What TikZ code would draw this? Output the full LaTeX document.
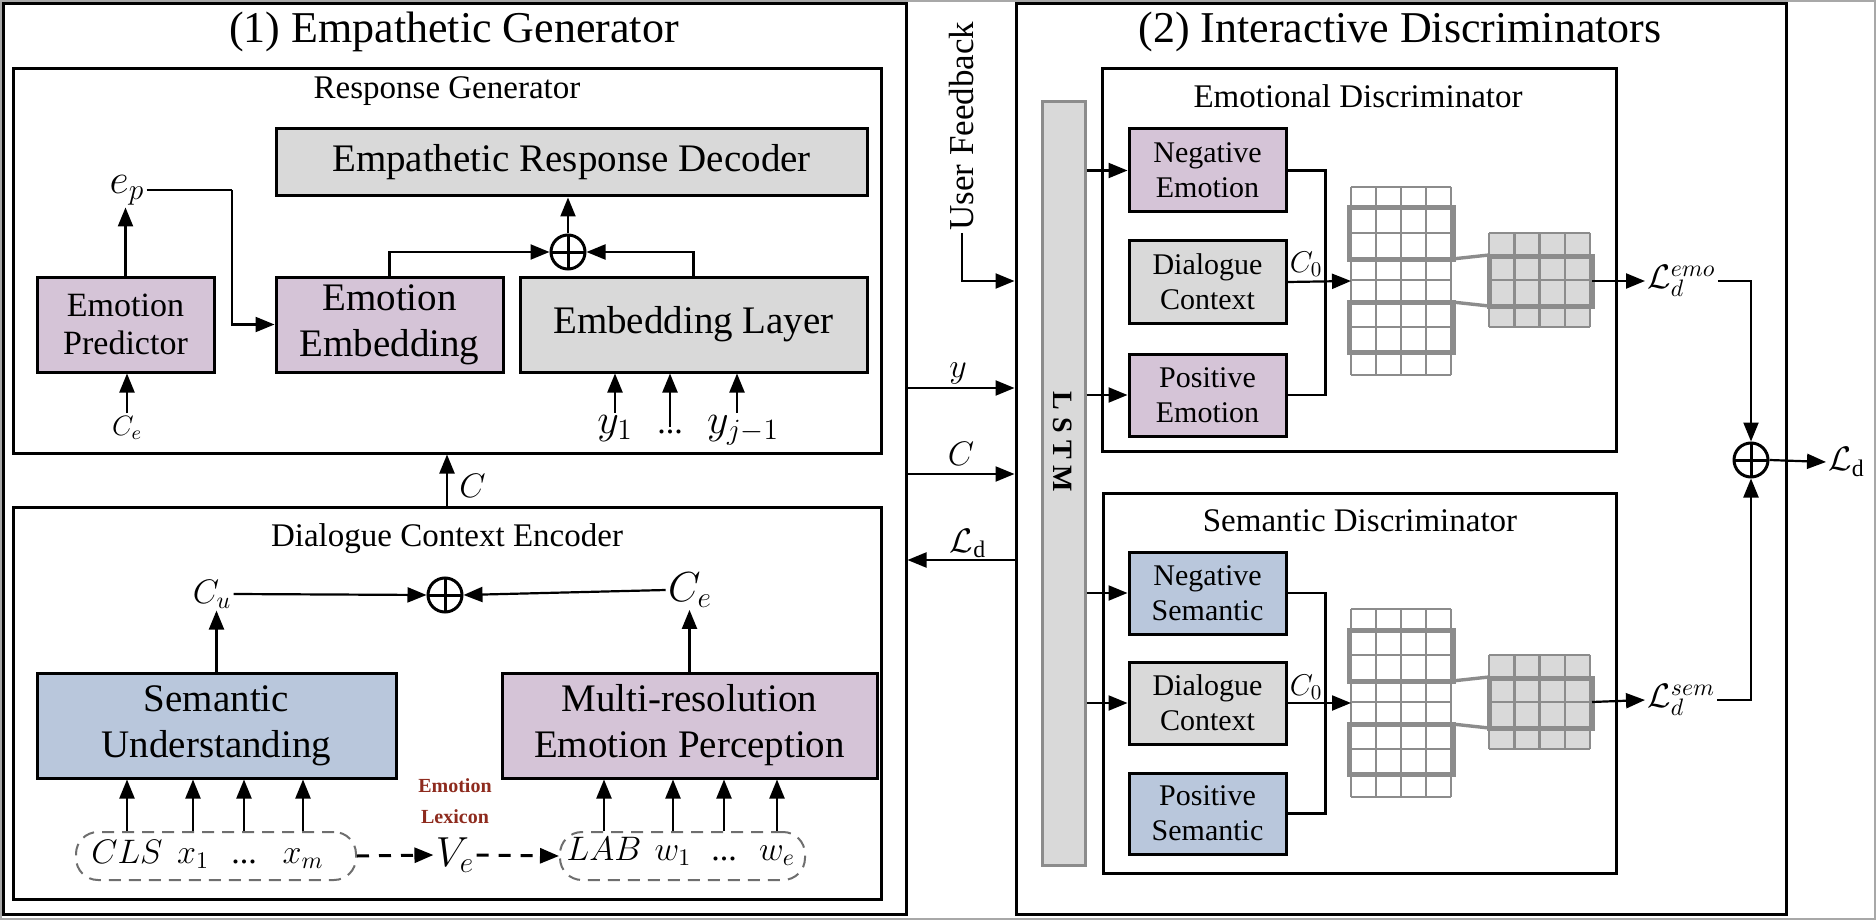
\RequirePackage{fix-cm}
\documentclass[tikz,border=0pt]{standalone}
\usepackage{fontspec}
\setmainfont{Liberation Serif}
\usetikzlibrary{arrows.meta,calc}
\definecolor{lilac}{HTML}{D5C4D7}
\definecolor{bluegray}{HTML}{B9C7DC}
\definecolor{lgray}{HTML}{D9D9D9}
\definecolor{ggray}{HTML}{8C8C8C}
\definecolor{dgray}{HTML}{6E6E6E}
\definecolor{lexred}{HTML}{8E2B1E}
\definecolor{imgframe}{HTML}{A8A8A8}
\newcommand{\mytitle}{\fontsize{22}{26}\selectfont}
\newcommand{\mysec}{\fontsize{16.5}{19}\selectfont}
\newcommand{\mybig}{\fontsize{19.5}{23}\selectfont}
\newcommand{\mypred}{\fontsize{17}{19}\selectfont}
\newcommand{\mydis}{\fontsize{15}{17.5}\selectfont}
\newcommand{\mylex}{\fontsize{10}{15.5}\selectfont\bfseries}
\newcommand{\mymathA}{\fontsize{21}{24}\selectfont}
\newcommand{\mymathB}{\fontsize{17}{20}\selectfont}
\newcommand{\mymathC}{\fontsize{15}{18}\selectfont}
\newcommand{\mymathD}{\fontsize{14}{17}\selectfont}
\begin{document}
\begin{tikzpicture}[x=0.5pt,y=-0.5pt,
  bx/.style n args={4}{at={({(#1+#3)/2},{(#2+#4)/2})},
     minimum width={(#3-#1)*0.5pt}, minimum height={(#4-#2)*0.5pt}},
  frame/.style={draw, line width=1.5pt, inner sep=0pt, outer sep=0.75pt},
  blk/.style={draw, line width=1.5pt, inner sep=0pt, outer sep=0.75pt, align=center},
  arr/.style={-{Triangle[length=9.5pt,width=7.5pt]}, line width=1.1pt},
  ln/.style={line width=1.1pt},
  lbl/.style={inner sep=1pt},
  dbox/.style={draw=dgray, line width=1pt, dash pattern=on 6pt off 4pt, rounded corners=11pt, inner sep=0pt},
  darr/.style={-{Triangle[length=9.5pt,width=7.5pt]}, line width=1.5pt, dash pattern=on 6pt off 5pt},
  oplus/.style={circle, draw, line width=1.5pt, minimum size=17pt, inner sep=0pt,
    path picture={\draw[line width=1.5pt] (path picture bounding box.north) -- (path picture bounding box.south)
      (path picture bounding box.west) -- (path picture bounding box.east);}},
  gl/.style={draw=ggray, line width=1.25pt},
  gthick/.style={draw=ggray, line width=2.5pt},
  glink/.style={draw=ggray, line width=1.7pt},
  bigg/.pic={
    \foreach \i in {0,...,4} \draw[gl] (25*\i,0) -- (25*\i,188);
    \foreach \j in {0,21,46,72,93,115,140,165,188} \draw[gl] (0,\j) -- (100,\j);
    \draw[gthick] (-2,21) rectangle (102,72);
    \draw[gthick] (-2,115) rectangle (102,165);
  },
  smallg/.pic={
    \fill[lgray] (0,0) rectangle (101,94);
    \foreach \i in {0,...,4} \draw[gl] (25.25*\i,0) -- (25.25*\i,94);
    \foreach \j in {0,23,47,73,94} \draw[gl] (0,\j) -- (101,\j);
    \draw[gthick] (0,23) rectangle (103,73);
  }
]
\useasboundingbox (0,0) rectangle (1876,920);
\draw[imgframe, line width=1pt] (1,1) rectangle (1875,919);

% ---------- frames
\node[frame, bx={3}{4}{906}{914}] (lbox) {};
\node[frame, bx={1016}{4}{1786}{914}] (rbox) {};
\node[font=\mytitle, anchor=base, inner sep=0pt] (t1) at (454,43) {(1) Empathetic Generator};
\node[font=\mytitle, anchor=base, inner sep=0pt] (t2) at (1400,43) {(2) Interactive Discriminators};

% ---------- response generator
\node[frame, bx={13}{69}{881}{453}] (rg) {};
\node[font=\mysec, anchor=base, inner sep=0pt] (rgl) at (447,99) {Response Generator};
\node[blk, fill=lgray, font=\mybig, bx={276}{129}{867}{196}] (dec) {Empathetic Response Decoder};
\node[blk, fill=lilac, font=\mypred, bx={37}{277}{214}{372}] (pred) {Emotion\\Predictor};
\node[blk, fill=lilac, font=\mybig, bx={276}{277}{503}{372}] (eemb) {Emotion\\Embedding};
\node[blk, fill=lgray, font=\mybig, bx={520}{277}{867}{372}] (elay) {Embedding Layer};
\node[oplus] (op1) at (568,252) {};
\node[lbl, font=\mymathA] (ep) at (127,190) {$e_p$};
\node[lbl, font=\mymathD, anchor=base] (ce1) at (127,435) {$C_e$};
\coordinate (epk) at (232,190);
\draw[ln] (ep.east) -- (epk);
\draw[arr] (epk) |- (eemb.west);
\draw[arr] (pred.north) -- (pred.north |- ep.south);
\draw[arr] (ce1.north) -- (ce1.north |- pred.south);
\draw[arr] (eemb.north) |- (op1.west);
\draw[arr] (elay.north) |- (op1.east);
\draw[arr] (op1.north) -- (op1.north |- dec.south);
\node[lbl, font=\mymathA, anchor=base] (y1) at (615,433) {$y_1$};
\node[lbl, font=\mymathB, anchor=base] (yd) at (670,433) {...};
\node[lbl, font=\mymathA, anchor=base] (yj) at (743,433) {$y_{j-1}$};
\draw[arr] (y1.north) -- (y1.north |- elay.south);
\draw[arr] (yd.north) -- (yd.north |- elay.south);
\draw[arr] ([xshift=-3pt]yj.north) -- ([xshift=-3pt]yj.north |- elay.south);

% ---------- dialogue context encoder
\node[frame, bx={13}{507}{881}{899}] (dce) {};
\node[font=\mysec, anchor=base, inner sep=0pt] (dcel) at (447,546) {Dialogue Context Encoder};
\draw[arr] (dce.north) -- (rg.south);
\node[lbl, font=\mymathB, anchor=base west] (clab) at (457,497) {$C$};
\node[oplus] (op2) at (445,595) {};
\node[lbl, font=\mymathB] (cu) at (212,594) {$C_u$};
\node[lbl, font=\mymathA] (ce2) at (690,590) {$C_e$};
\draw[arr] (cu.east) -- (op2.west);
\draw[arr] (ce2.west) -- (op2.east);
\node[blk, fill=bluegray, font=\mybig, bx={37}{673}{396}{778}] (semu) {Semantic\\Understanding};
\node[blk, fill=lilac, font=\mybig, bx={502}{673}{877}{778}] (mre) {Multi-resolution\\Emotion Perception};
\draw[arr] (semu.north) -- (semu.north |- cu.south);
\draw[arr] (mre.north) -- (mre.north |- ce2.south);

\node[dbox, bx={76}{832}{356}{880}] (in1) {};
\node[lbl, font=\mymathB, anchor=base] (cls) at (127,863) {$CLS$};
\node[lbl, font=\mymathB, anchor=base] (x1) at (193,863) {$x_1$};
\node[lbl, font=\mymathB, anchor=base] (xd) at (244,863) {...};
\node[lbl, font=\mymathB, anchor=base] (xm) at (303,863) {$x_m$};
\foreach \n in {cls,x1,xd,xm} \draw[arr] (\n |- in1.north) -- (\n |- semu.south);

\node[lbl, font=\mymathA] (ve) at (455,855) {$V_e$};
\node[font=\mylex, text=lexred, align=center, inner sep=0pt] (lex) at (455,801) {Emotion\\Lexicon};
\node[dbox, bx={560}{832}{805}{880}] (in2) {};
\node[lbl, font=\mymathB, anchor=base] (lab) at (604,860) {$LAB$};
\node[lbl, font=\mymathB, anchor=base] (w1) at (673,860) {$w_1$};
\node[lbl, font=\mymathB, anchor=base] (wd) at (724,860) {...};
\node[lbl, font=\mymathB, anchor=base] (we) at (777,860) {$w_e$};
\foreach \n in {lab,w1,wd,we} \draw[arr] (\n |- in2.north) -- (\n |- mre.south);
\draw[darr] (in1.east) -- (ve.west);
\draw[darr] (ve.east) -- (in2.west);

% ---------- middle
\node[font=\fontsize{17.5}{20}\selectfont, rotate=90, inner sep=1pt] (ufb) at (962,126) {User Feedback};
\coordinate (yuf) at (990,281);
\coordinate (yy) at (990,388);
\coordinate (yc) at (990,474);
\coordinate (yl) at (990,560);
\draw[arr] (ufb.west) |- (rbox.west |- yuf);
\draw[arr] (lbox.east |- yy) -- (rbox.west |- yy);
\draw[arr] (lbox.east |- yc) -- (rbox.west |- yc);
\draw[arr] (rbox.west |- yl) -- (lbox.east |- yl);
\node[lbl, font=\mymathB, anchor=base] (ylab) at (958,377) {$y$};
\node[lbl, font=\mymathB, anchor=base] (clab2) at (961,465) {$C$};
\node[lbl, font=\mymathB, anchor=base] (ldlab) at (968,552) {$\mathcal{L}_\mathrm{d}$};

% ---------- LSTM
\node[draw=ggray, fill=lgray, line width=1.5pt, inner sep=0pt, bx={1042}{102}{1085}{865}] (lstm) {};
\node[font=\fontsize{14}{16}\selectfont\bfseries, rotate=-90] (lstmt) at (1063,442) {L S T M};

% ---------- emotional discriminator
\node[frame, bx={1102}{69}{1616}{451}] (emod) {};
\node[font=\mysec, anchor=base, inner sep=0pt] (emodl) at (1358,108) {Emotional Discriminator};
\node[blk, fill=lilac, font=\mydis, bx={1129}{129}{1286}{212}] (nege) {Negative\\Emotion};
\node[blk, fill=lgray, font=\mydis, bx={1129}{241}{1286}{323}] (dc1) {Dialogue\\Context};
\node[blk, fill=lilac, font=\mydis, bx={1129}{354}{1286}{436}] (pose) {Positive\\Emotion};
\draw[arr] (lstm.east |- nege.west) -- (nege.west);
\draw[arr] (lstm.east |- pose.west) -- (pose.west);
\draw[ln, line width=1.4pt] (nege.east) -- ++(38,0) |- (pose.east);
\pic at (1351,187) {bigg};
\pic at (1489,233) {smallg};
\coordinate (g1w) at (1351,281);
\coordinate (sg1e) at (1592,281);
\draw[glink] (1452,259) -- (1489,255);
\draw[glink] (1452,302) -- (1489,306);
\draw[arr] (dc1.east) -- (g1w);
\node[lbl, font=\mymathC, anchor=base] (c01) at (1306,272) {$C_0$};
\node[lbl, font=\mymathB, anchor=west] (lemo) at (1645,281) {$\mathcal{L}_d^{emo}$};
\draw[arr] (sg1e) -- (lemo.west);

% ---------- semantic discriminator
\node[frame, bx={1103}{493}{1616}{873}] (semd) {};
\node[font=\mysec, anchor=base, inner sep=0pt] (semdl) at (1360,531) {Semantic Discriminator};
\node[blk, fill=bluegray, font=\mydis, bx={1129}{552}{1286}{634}] (negs) {Negative\\Semantic};
\node[blk, fill=lgray, font=\mydis, bx={1129}{662}{1286}{744}] (dc2) {Dialogue\\Context};
\node[blk, fill=bluegray, font=\mydis, bx={1129}{773}{1286}{854}] (poss) {Positive\\Semantic};
\draw[arr] (lstm.east |- negs.west) -- (negs.west);
\draw[arr] (lstm.east |- dc2.west) -- (dc2.west);
\draw[ln, line width=1.4pt] (negs.east) -- ++(38,0) |- (poss.east);
\pic at (1351,609) {bigg};
\pic at (1489,655) {smallg};
\coordinate (g2w) at (1351,703);
\coordinate (sg2e) at (1592,702);
\draw[glink] (1452,681) -- (1489,677);
\draw[glink] (1452,724) -- (1489,728);
\draw[arr] (dc2.east) -- (g2w);
\node[lbl, font=\mymathC, anchor=base] (c02) at (1306,695) {$C_0$};
\node[lbl, font=\mymathB, anchor=west] (lsem) at (1645,700) {$\mathcal{L}_d^{sem}$};
\draw[arr] (sg2e) -- (lsem.west);

% ---------- final sum
\node[oplus] (op3) at (1751,460) {};
\draw[arr] (lemo.east) -| (op3.north);
\draw[arr] (lsem.east) -| (op3.south);
\node[lbl, font=\mymathB, anchor=west] (ldf) at (1826,462) {$\mathcal{L}_\mathrm{d}$};
\draw[arr] (op3.east) -- (ldf.west);
\end{tikzpicture}
\end{document}
